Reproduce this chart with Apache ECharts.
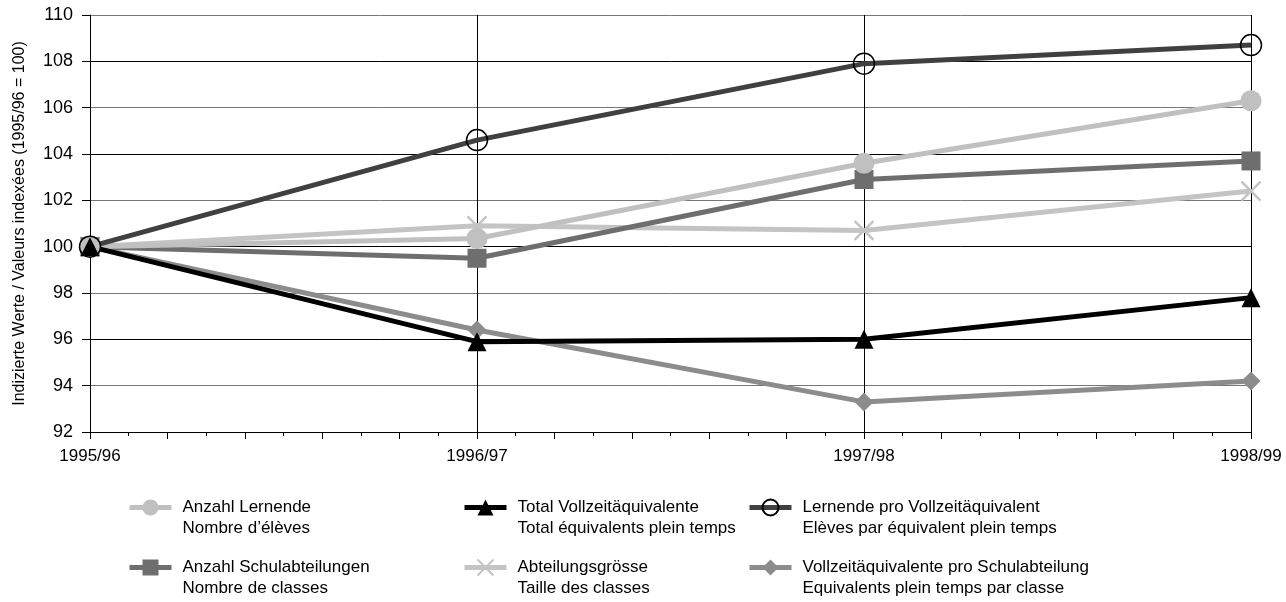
<!DOCTYPE html>
<html><head><meta charset="utf-8">
<script src="https://cdn.jsdelivr.net/npm/echarts@6/dist/echarts.min.js"></script>
<style>html,body{margin:0;padding:0;background:#fff}#c{width:1286px;height:602px}</style>
</head><body><div id="c"></div>
<script>
const categories = ['1995/96', '1996/97', '1997/98', '1998/99'];
const yTicks = { min: 92, max: 110, interval: 2 };
const anzahlLernende = [100, 100.35, 103.6, 106.3];
const totalVZAE = [100, 95.9, 96.0, 97.8];
const lernendeProVZAE = [100, 104.6, 107.9, 108.7];
const anzahlSchulabteilungen = [100, 99.5, 102.9, 103.7];
const abteilungsgroesse = [100, 100.9, 100.7, 102.4];
const vzaeProAbteilung = [100, 96.4, 93.3, 94.2];
const names = [
  'Anzahl Lernende\nNombre d\u2019élèves',
  'Total Vollzeitäquivalente\nTotal équivalents plein temps',
  'Lernende pro Vollzeitäquivalent\nElèves par équivalent plein temps',
  'Anzahl Schulabteilungen\nNombre de classes',
  'Abteilungsgrösse\nTaille des classes',
  'Vollzeitäquivalente pro Schulabteilung\nEquivalents plein temps par classe'
];
const FONT = 'Liberation Sans, Arial, sans-serif';
const chart = echarts.init(document.getElementById('c'));
function line(name, data, color, symbol, size, extra) {
  return Object.assign({
    name, type: 'line', data, symbol, symbolSize: size,
    lineStyle: { color, width: 5 },
    itemStyle: { color },
    emphasis: { disabled: true },
    animation: false
  }, extra || {});
}
const legendPos = [[127, 476], [462, 476], [747, 476], [127, 536], [462, 536], [747, 536]];
const legends = names.map((n, i) => ({
  data: [n], left: legendPos[i][0], top: legendPos[i][1], padding: 0,
  itemWidth: 42, itemHeight: 20, itemGap: 0, selectedMode: false,
  lineStyle: { width: 5 },
  formatter: s => ' \n' + s,
  textStyle: { fontFamily: FONT, fontSize: 17, color: '#000', lineHeight: 21, padding: [0, 0, 0, 6] }
}));
chart.setOption({
  animation: false,
  backgroundColor: '#fff',
  grid: { left: 90, right: 35, top: 15, bottom: 170, containLabel: false },
  legend: legends,
  xAxis: [{
    type: 'category', data: categories, boundaryGap: false,
    axisLine: { lineStyle: { color: '#000', width: 1 } },
    axisTick: { show: false },
    axisLabel: { fontFamily: FONT, fontSize: 17, color: '#000', margin: 16 },
    splitLine: { show: true, lineStyle: { color: '#000', width: 1 } }
  }, {
    type: 'value', min: 0, max: categories.length - 1, interval: 0.2, position: 'bottom',
    axisLine: { show: false }, axisLabel: { show: false }, splitLine: { show: false },
    axisTick: { show: true, length: 7, lineStyle: { color: '#000' } },
    minorTick: { show: true, splitNumber: 2, length: 4, lineStyle: { color: '#000' } }
  }],
  yAxis: {
    type: 'value', min: yTicks.min, max: yTicks.max, interval: yTicks.interval,
    name: 'Indizierte Werte / Valeurs indexées (1995/96 = 100)',
    nameLocation: 'middle', nameGap: 62, nameRotate: 90,
    nameTextStyle: { fontFamily: FONT, fontSize: 16, color: '#000' },
    axisLine: { show: true, lineStyle: { color: '#000' } },
    axisTick: { show: true, length: 8, lineStyle: { color: '#000' } },
    axisLabel: { fontFamily: FONT, fontSize: 18, color: '#000', margin: 17 },
    splitLine: { show: true, lineStyle: { color: ['#000', '#777'], width: 1 } }
  },
  series: [
    line(names[5], vzaeProAbteilung, '#8c8c8c', 'diamond', 19),
    line(names[4], abteilungsgroesse, '#c4c4c4', 'path://M0,0L10,10M10,0L0,10', 19,
      { itemStyle: { color: 'none', borderColor: '#c4c4c4', borderWidth: 2.5 } }),
    line(names[3], anzahlSchulabteilungen, '#6e6e6e', 'rect', 19),
    line(names[0], anzahlLernende, '#c0c0c0', 'circle', 21),
    line(names[1], totalVZAE, '#000', 'triangle', 19),
    line(names[2], lernendeProVZAE, '#404040', 'circle', 21,
      { itemStyle: { color: 'rgba(0,0,0,0)', borderColor: '#000', borderWidth: 1.5 } })
  ]
});
</script></body></html>
